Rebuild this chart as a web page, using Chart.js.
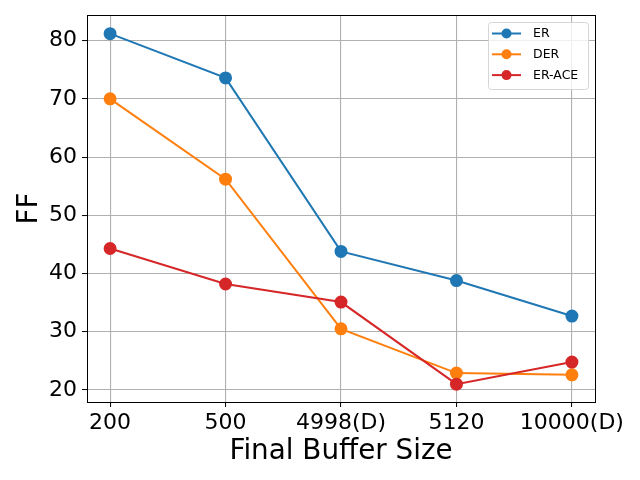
<!DOCTYPE html>
<html>
<head>
<meta charset="utf-8">
<script src="https://cdn.jsdelivr.net/npm/chart.js"></script>
<style>
  html, body { margin: 0; padding: 0; background: #fff; }
  canvas { display: block; }
</style>
</head>
<body>
<canvas id="chart" width="640" height="480"></canvas>
<script>
// buffer sizes on the x axis
const bufferSizes = ['200', '500', '4998(D)', '5120', '10000(D)'];
const yTicks = [20, 30, 40, 50, 60, 70, 80];

// FF values
const erValues = [81.2, 73.6, 43.8, 38.8, 32.7];
const derValues = [70.0, 56.2, 30.5, 22.9, 22.6];
const erAceValues = [44.3, 38.2, 35.1, 21.0, 24.8];

const seriesNames = ['ER', 'DER', 'ER-ACE'];
const seriesColors = ['#1f77b4', '#ff7f0e', '#d62728'];

const toPoints = vals => vals.map((v, i) => ({ x: i, y: v }));
const FONT = "'DejaVu Sans', sans-serif";

function makeDataset(idx, vals) {
  return {
    label: seriesNames[idx],
    data: toPoints(vals),
    borderColor: seriesColors[idx],
    backgroundColor: seriesColors[idx],
    pointBackgroundColor: seriesColors[idx],
    pointBorderColor: seriesColors[idx],
    borderWidth: 2,
    pointRadius: 5.5,
    pointHoverRadius: 5.5,
    tension: 0,
    order: 2 - idx
  };
}

// box around the plot + matplotlib-like legend inside the axes
const framePlugin = {
  id: 'frame',
  afterDraw(chart) {
    const ctx = chart.ctx;
    const a = chart.chartArea;
    ctx.save();
    ctx.strokeStyle = '#000';
    ctx.lineWidth = 1;
    ctx.strokeRect(Math.round(a.left) + 0.5, Math.round(a.top) + 0.5,
      Math.round(a.right - a.left), Math.round(a.bottom - a.top));

    // legend
    const bx = 488.5, by = 22.5, bw = 100, bh = 67, r = 3;
    ctx.beginPath();
    ctx.moveTo(bx + r, by);
    ctx.arcTo(bx + bw, by, bx + bw, by + bh, r);
    ctx.arcTo(bx + bw, by + bh, bx, by + bh, r);
    ctx.arcTo(bx, by + bh, bx, by, r);
    ctx.arcTo(bx, by, bx + bw, by, r);
    ctx.closePath();
    ctx.fillStyle = 'rgba(255,255,255,0.8)';
    ctx.fill();
    ctx.strokeStyle = '#d6d6d6';
    ctx.lineWidth = 1;
    ctx.stroke();

    ctx.font = '12.5px ' + FONT;
    ctx.textBaseline = 'middle';
    ctx.textAlign = 'left';
    chart.data.datasets.forEach((ds, i) => {
      const y = 33.5 + i * 20.8;
      ctx.strokeStyle = ds.borderColor;
      ctx.lineWidth = 2;
      ctx.beginPath();
      ctx.moveTo(492, y);
      ctx.lineTo(521, y);
      ctx.stroke();
      ctx.fillStyle = ds.borderColor;
      ctx.beginPath();
      ctx.arc(506.5, y, 5, 0, Math.PI * 2);
      ctx.fill();
      ctx.fillStyle = '#000';
      ctx.fillText(ds.label, 533, y + 0.5);
    });
    ctx.restore();
  }
};

new Chart(document.getElementById('chart'), {
  type: 'line',
  data: {
    datasets: [
      makeDataset(0, erValues),
      makeDataset(1, derValues),
      makeDataset(2, erAceValues)
    ]
  },
  options: {
    responsive: false,
    animation: false,
    devicePixelRatio: 1,
    layout: { padding: { top: 15, right: 45, left: 0, bottom: 0 } },
    plugins: {
      legend: { display: false },
      tooltip: { enabled: false }
    },
    scales: {
      x: {
        type: 'linear',
        min: -0.2,
        max: 4.2,
        afterBuildTicks(scale) {
          scale.ticks = bufferSizes.map((_, i) => ({ value: i }));
        },
        afterFit(scale) {
          scale.height = 78;
          scale.paddingLeft = 0;
          scale.paddingRight = 0;
        },
        ticks: {
          autoSkip: false,
          maxRotation: 0,
          padding: 3,
          color: '#000',
          font: { family: FONT, size: 22 },
          callback: v => bufferSizes[v]
        },
        grid: {
          color: '#b0b0b0',
          lineWidth: 1.1,
          drawTicks: true,
          tickLength: 5,
          tickColor: '#000',
          tickWidth: 1
        },
        border: { display: false },
        title: {
          display: true,
          text: 'Final Buffer Size',
          color: '#000',
          font: { family: FONT, size: 27.8 },
          padding: { top: 0, bottom: 12 }
        }
      },
      y: {
        min: 17.94,
        max: 84.4,
        afterBuildTicks(scale) {
          scale.ticks = yTicks.map(v => ({ value: v }));
        },
        afterFit(scale) {
          scale.width = 87;
          scale.paddingTop = 0;
          scale.paddingBottom = 0;
        },
        ticks: {
          padding: 5,
          color: '#000',
          font: { family: FONT, size: 22 }
        },
        grid: {
          color: '#b0b0b0',
          lineWidth: 1.1,
          drawTicks: true,
          tickLength: 5,
          tickColor: '#000',
          tickWidth: 1
        },
        border: { display: false },
        title: {
          display: true,
          text: 'FF',
          color: '#000',
          font: { family: FONT, size: 27.8 },
          padding: { top: 13, bottom: 0 }
        }
      }
    }
  },
  plugins: [framePlugin]
});
</script>
</body>
</html>
